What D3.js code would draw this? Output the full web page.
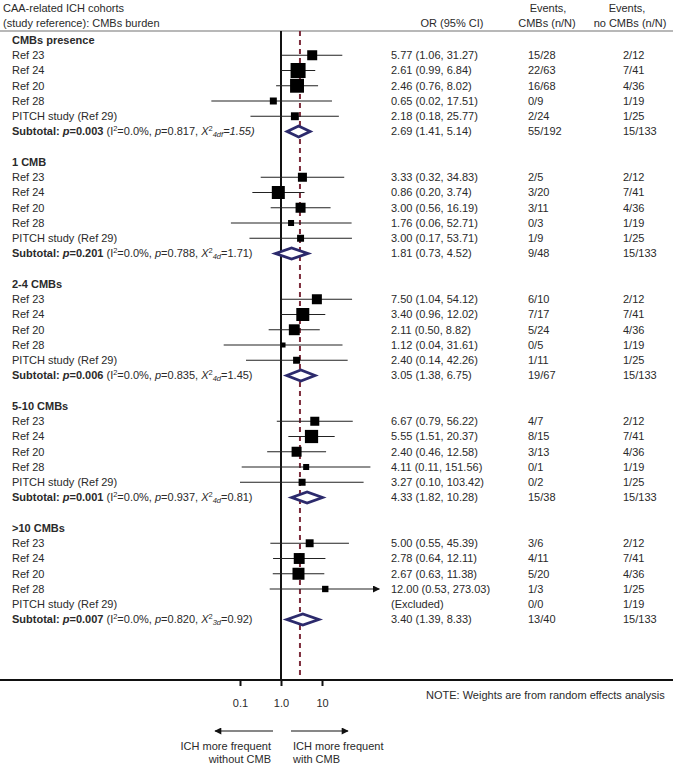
<!DOCTYPE html>
<html><head><meta charset="utf-8">
<script src="https://cdn.jsdelivr.net/npm/d3@7"></script>
<style>
body{margin:0;background:#fff}
svg{display:block}
text{font-family:"Liberation Sans",Arial,sans-serif;font-size:11px;fill:#2a2a2a}
</style>
</head><body>
<svg id="chart" width="673" height="765"></svg>
<script>
// ---------- data ----------
const groups = ["CMBs presence", "1 CMB", "2-4 CMBs", "5-10 CMBs", ">10 CMBs"];
const studies = ["Ref 23", "Ref 24", "Ref 20", "Ref 28", "PITCH study (Ref 29)"];
const orVals = [
  [5.77, 2.61, 2.46, 0.65, 2.18],
  [3.33, 0.86, 3.00, 1.76, 3.00],
  [7.50, 3.40, 2.11, 1.12, 2.40],
  [6.67, 5.55, 2.40, 4.11, 3.27],
  [5.00, 2.78, 2.67, 12.00, null]
];
const ciLow = [
  [1.06, 0.99, 0.76, 0.02, 0.18],
  [0.32, 0.20, 0.56, 0.06, 0.17],
  [1.04, 0.96, 0.50, 0.04, 0.14],
  [0.79, 1.51, 0.46, 0.11, 0.10],
  [0.55, 0.64, 0.63, 0.53, null]
];
const ciHigh = [
  [31.27, 6.84, 8.02, 17.51, 25.77],
  [34.83, 3.74, 16.19, 52.71, 53.71],
  [54.12, 12.02, 8.82, 31.61, 42.26],
  [56.22, 20.37, 12.58, 151.56, 103.42],
  [45.39, 12.11, 11.38, 273.03, null]
];
const evCMB = [
  ["15/28", "22/63", "16/68", "0/9", "2/24"],
  ["2/5", "3/20", "3/11", "0/3", "1/9"],
  ["6/10", "7/17", "5/24", "0/5", "1/11"],
  ["4/7", "8/15", "3/13", "0/1", "0/2"],
  ["3/6", "4/11", "5/20", "1/3", "0/0"]
];
const evNoCMB = [
  ["2/12", "7/41", "4/36", "1/19", "1/25"],
  ["2/12", "7/41", "4/36", "1/19", "1/25"],
  ["2/12", "7/41", "4/36", "1/19", "1/25"],
  ["2/12", "7/41", "4/36", "1/19", "1/25"],
  ["2/12", "7/41", "4/36", "1/25", "1/19"]
];
// box weights (estimated from square sizes)
const boxWeight = [
  [16, 36, 31, 7.8, 10],
  [13, 27, 16, 5.8, 7.8],
  [16, 27, 19, 4, 7.8],
  [13, 28, 16, 5.8, 7.8],
  [10, 19, 23, 6.5, 0]
];
const subOR = [2.69, 1.81, 3.05, 4.33, 3.40];
const subLow = [1.41, 0.73, 1.38, 1.82, 1.39];
const subHigh = [5.14, 4.52, 6.75, 10.28, 8.33];
const subEvCMB = ["55/192", "9/48", "19/67", "15/38", "13/40"];
const subEvNoCMB = ["15/133", "15/133", "15/133", "15/133", "15/133"];
const subP = ["0.003", "0.201", "0.006", "0.001", "0.007"];
const subI2 = ["0.0%", "0.0%", "0.0%", "0.0%", "0.0%"];
const subHetP = ["0.817", "0.788", "0.835", "0.937", "0.820"];
const subDf = ["4df", "4d", "4d", "4d", "3d"];
const subChi = ["1.55", "1.71", "1.45", "0.81", "0.92"];
const overallOR = 2.9;
const xTicks = [0.1, 1, 10];
const xTickLabels = ["0.1", "1.0", "10"];
const clipMax = 250;

// ---------- layout ----------
const W = 673, H = 765;
const svg = d3.select("#chart");
const x = d3.scaleLog().domain([0.1, 10]).range([240, 322]);
const rowY = d3.scaleLinear().domain([0, 1]).range([40, 55.25]);
const boxSize = d3.scaleSqrt().domain([0, 36]).range([0, 15]);
const f2 = d3.format(".2f");

const colLabel = 12, colOR = 391, colEv1 = 528, colEv2 = 623;
const axisY = 680, topY = 31;

// markers
const defs = svg.append("defs");
defs.append("marker").attr("id", "arr").attr("viewBox", "0 0 10 10")
  .attr("refX", 9).attr("refY", 5).attr("markerWidth", 10).attr("markerHeight", 7)
  .attr("markerUnits", "userSpaceOnUse").attr("orient", "auto")
  .append("path").attr("d", "M0,0 L10,5 L0,10 Z").attr("fill", "#111");
defs.append("marker").attr("id", "arrBig").attr("viewBox", "0 0 10 10")
  .attr("refX", 9).attr("refY", 5).attr("markerWidth", 13).attr("markerHeight", 7)
  .attr("markerUnits", "userSpaceOnUse").attr("orient", "auto")
  .append("path").attr("d", "M0,0 L10,5 L0,10 Z").attr("fill", "#111");

// header
const hdr = svg.append("g");
hdr.append("text").attr("x", 3).attr("y", 12).attr("font-size", "11.5px").text("CAA-related ICH cohorts");
hdr.append("text").attr("x", 3).attr("y", 27).attr("font-size", "11.5px").text("(study reference): CMBs burden");
hdr.append("text").attr("x", 452).attr("y", 27).attr("text-anchor", "middle").text("OR (95% CI)");
hdr.append("text").attr("x", 548).attr("y", 12).attr("text-anchor", "middle").text("Events,");
hdr.append("text").attr("x", 547).attr("y", 27).attr("text-anchor", "middle").text("CMBs (n/N)");
hdr.append("text").attr("x", 627).attr("y", 12).attr("text-anchor", "middle").text("Events,");
hdr.append("text").attr("x", 630).attr("y", 27).attr("text-anchor", "middle").text("no CMBs (n/N)");
svg.append("line").attr("x1", 0).attr("x2", W).attr("y1", topY).attr("y2", topY)
  .attr("stroke", "#a0a0a0").attr("stroke-width", 1.5);

// reference lines
svg.append("line").attr("x1", x(overallOR)).attr("x2", x(overallOR))
  .attr("y1", topY).attr("y2", axisY)
  .attr("stroke", "#7d2c3c").attr("stroke-width", 2).attr("stroke-dasharray", "5,4");
svg.append("line").attr("x1", x(1)).attr("x2", x(1)).attr("y1", topY).attr("y2", axisY)
  .attr("stroke", "#111").attr("stroke-width", 2);

// rows
const body = svg.append("g");
groups.forEach((g, s) => {
  const base = s * 8;
  body.append("text").attr("x", colLabel).attr("y", rowY(base)).attr("dy", "0.35em")
    .attr("font-weight", "bold").text(g);
  studies.forEach((st, i) => {
    const yy = rowY(base + 1 + i);
    body.append("text").attr("x", colLabel).attr("y", yy).attr("dy", "0.35em").text(st);
    const o = orVals[s][i];
    if (o !== null) {
      const hi = ciHigh[s][i];
      const line = body.append("line")
        .attr("x1", x(ciLow[s][i])).attr("x2", x(Math.min(hi, clipMax)))
        .attr("y1", yy).attr("y2", yy).attr("stroke", "#222").attr("stroke-width", 1.1);
      if (hi > clipMax) line.attr("marker-end", "url(#arr)");
      const b = boxSize(boxWeight[s][i]);
      body.append("rect").attr("x", x(o) - b / 2).attr("y", yy - b / 2)
        .attr("width", b).attr("height", b).attr("fill", "#000");
      body.append("text").attr("x", colOR).attr("y", yy).attr("dy", "0.35em")
        .text(`${f2(o)} (${f2(ciLow[s][i])}, ${f2(hi)})`);
    } else {
      body.append("text").attr("x", colOR).attr("y", yy).attr("dy", "0.35em").text("(Excluded)");
    }
    body.append("text").attr("x", colEv1).attr("y", yy).attr("dy", "0.35em").text(evCMB[s][i]);
    body.append("text").attr("x", colEv2).attr("y", yy).attr("dy", "0.35em").text(evNoCMB[s][i]);
  });
  // subtotal
  const ys = rowY(base + 6);
  const t = body.append("text").attr("x", colLabel).attr("y", ys).attr("dy", "0.35em");
  t.append("tspan").attr("font-weight", "bold").text("Subtotal: ");
  t.append("tspan").attr("font-weight", "bold").attr("font-style", "italic").text("p");
  t.append("tspan").attr("font-weight", "bold").text("=" + subP[s]);
  t.append("tspan").text(" (I");
  t.append("tspan").attr("font-size", "7.5px").attr("dy", "-4").text("2");
  t.append("tspan").attr("dy", "4").text("=" + subI2[s] + ", ");
  t.append("tspan").attr("font-style", "italic").text("p");
  t.append("tspan").text("=" + subHetP[s] + ", ");
  t.append("tspan").attr("font-style", "italic").text("X");
  t.append("tspan").attr("font-size", "7.5px").attr("dy", "-4").text("2");
  t.append("tspan").attr("font-size", "7.5px").attr("font-style", "italic").attr("dy", "6").text(subDf[s]);
  t.append("tspan").attr("dy", "-2").attr("font-style", s === 0 ? "italic" : "normal")
    .text("=" + subChi[s] + ")");
  const h = 5.5;
  body.append("path")
    .attr("d", `M${x(subLow[s])},${ys} L${x(subOR[s])},${ys - h} L${x(subHigh[s])},${ys} L${x(subOR[s])},${ys + h} Z`)
    .attr("fill", "#fff").attr("stroke", "#2c2a6c").attr("stroke-width", 2.8)
    .attr("stroke-linejoin", "miter");
  body.append("text").attr("x", colOR).attr("y", ys).attr("dy", "0.35em")
    .text(`${f2(subOR[s])} (${f2(subLow[s])}, ${f2(subHigh[s])})`);
  body.append("text").attr("x", colEv1).attr("y", ys).attr("dy", "0.35em").text(subEvCMB[s]);
  body.append("text").attr("x", colEv2).attr("y", ys).attr("dy", "0.35em").text(subEvNoCMB[s]);
});

// axis
svg.append("line").attr("x1", 0).attr("x2", W).attr("y1", axisY).attr("y2", axisY)
  .attr("stroke", "#111").attr("stroke-width", 2);
const ax = svg.append("g").attr("transform", `translate(0,${axisY})`)
  .call(d3.axisBottom(x).tickValues(xTicks).tickFormat((d, i) => xTickLabels[i])
    .tickSize(6).tickPadding(13));
ax.select(".domain").remove();
ax.selectAll(".tick line").attr("stroke", "#111").attr("stroke-width", 2);
ax.selectAll(".tick text").attr("font-size", 11).attr("font-family", "Liberation Sans, Arial, sans-serif")
  .attr("fill", "#2a2a2a");

svg.append("text").attr("x", 426).attr("y", 699).text("NOTE: Weights are from random effects analysis");

// direction arrows
svg.append("line").attr("x1", 273).attr("x2", 215).attr("y1", 731).attr("y2", 731)
  .attr("stroke", "#111").attr("stroke-width", 1.2).attr("marker-end", "url(#arrBig)");
svg.append("line").attr("x1", 291).attr("x2", 348).attr("y1", 731).attr("y2", 731)
  .attr("stroke", "#111").attr("stroke-width", 1.2).attr("marker-end", "url(#arrBig)");
svg.append("text").attr("x", 271).attr("y", 750).attr("text-anchor", "end").text("ICH more frequent");
svg.append("text").attr("x", 271).attr("y", 763).attr("text-anchor", "end").text("without CMB");
svg.append("text").attr("x", 293).attr("y", 750).text("ICH more frequent");
svg.append("text").attr("x", 293).attr("y", 763).text("with CMB");
</script>
</body></html>
